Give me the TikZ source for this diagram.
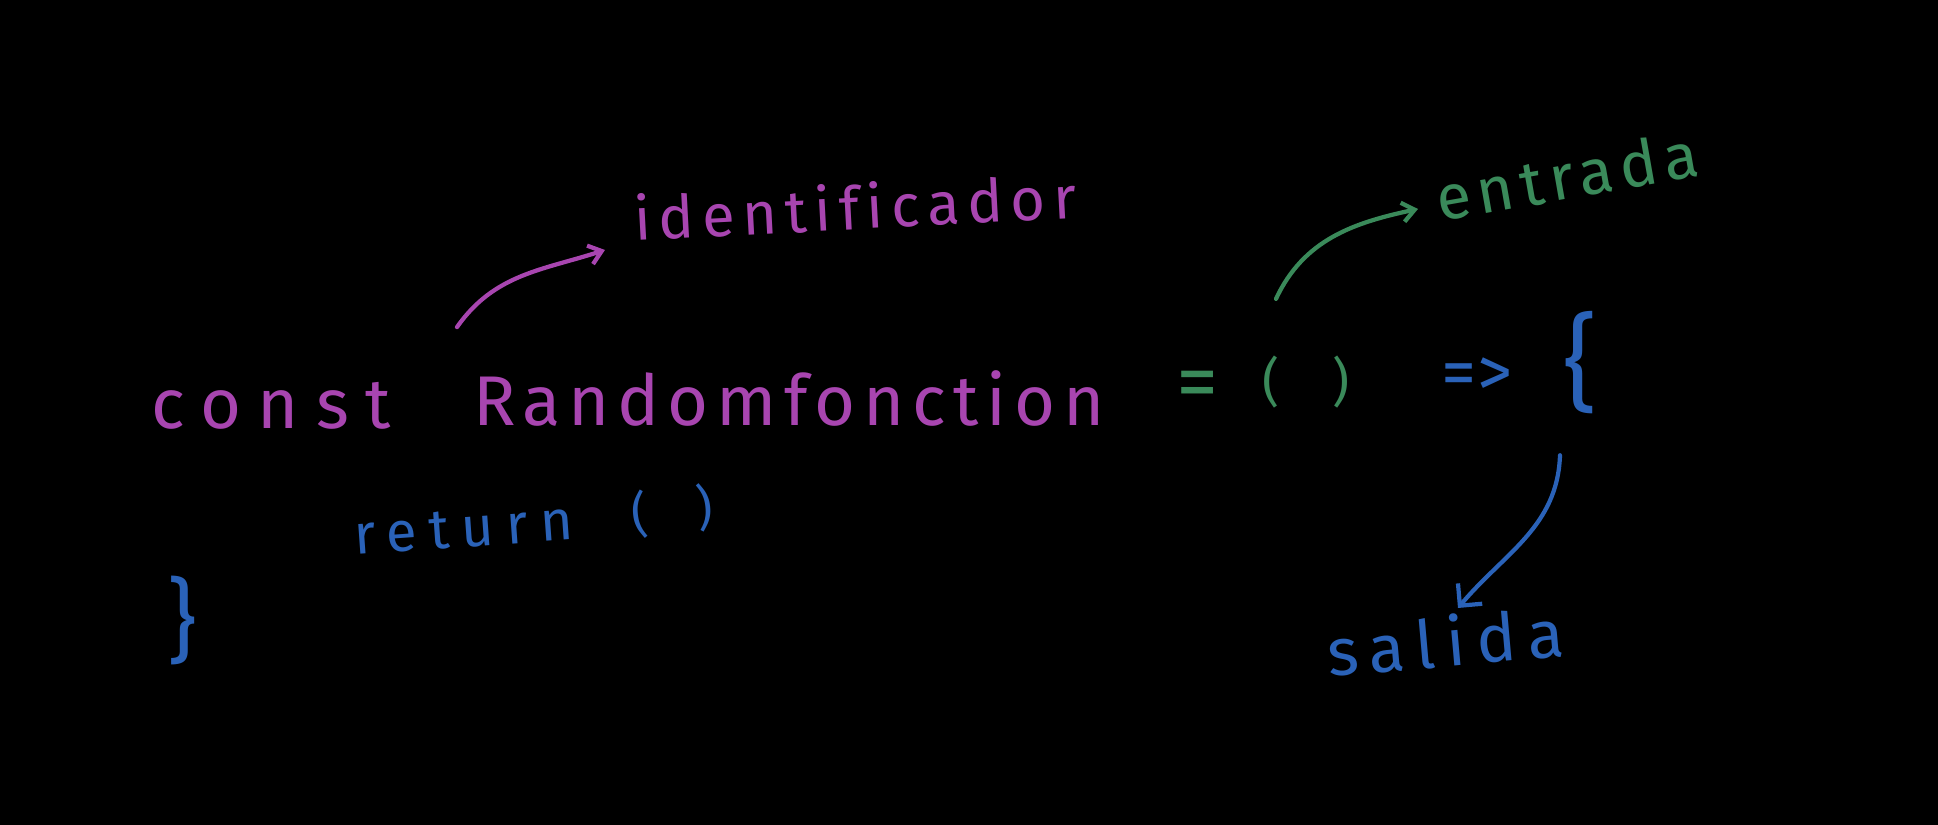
\documentclass[tikz,border=0pt]{standalone}
\usepackage{fontspec}
\setmainfont{Fira Sans}
\usetikzlibrary{arrows.meta,calc}
\definecolor{penmagenta}{RGB}{168,69,176}
\definecolor{pengreen}{RGB}{58,138,90}
\definecolor{penblue}{RGB}{42,98,184}
\newcommand{\handsize}[2]{\fontsize{#1}{#1}\selectfont
  \addfontfeature{LetterSpace=#2,Ligatures=NoCommon}}
\tikzset{
  hand/.style={inner sep=0pt, outer sep=0pt, anchor=base west},
  magtext/.style={hand, text=penmagenta},
  greentext/.style={hand, text=pengreen},
  bluetext/.style={hand, text=penblue},
  magflow/.style={draw=penmagenta, line width=1.2pt, line cap=round,
                  -{Straight Barb[length=3.5pt,width=5.5pt]}},
  greenflow/.style={draw=pengreen, line width=1.2pt, line cap=round,
                    -{Straight Barb[length=3.5pt,width=5.5pt]}},
  blueflow/.style={draw=penblue, line width=1.2pt, line cap=round,
                   -{Straight Barb[length=4.5pt,width=9pt]}},
}
\begin{document}
\begin{tikzpicture}[x=0.01cm,y=0.01cm]
  \path[use as bounding box, fill=black] (0,0) rectangle (1938,825);

  % first line of code
  \node[magtext, font=\handsize{20}{24}] (kw) at (151,396) {const};
  \node[magtext, font=\handsize{20}{11}] (fname) at (473,399) {Randomfonction};
  \node[greentext, anchor=center, font=\handsize{24}{0}] (eq) at (1198,434) {=};
  \node[greentext, anchor=center, font=\handsize{15}{0}] (inp) at (1306,443)
    {(\hspace{5.3mm})};
  \node[bluetext, anchor=center, font=\handsize{20}{0}] (arrow) at (1477,448) {=>};
  \node[bluetext, anchor=center, font=\handsize{30}{0}] (obrace) at (1580,462) {\{};

  % body
  \node[bluetext, rotate=4, font=\handsize{16}{22}] (ret) at (355,270) {return};
  \node[bluetext, anchor=center, rotate=6, font=\handsize{14}{0}] (retpar) at (672,314)
    {(\hspace{4.9mm})};
  \node[bluetext, anchor=center, font=\handsize{26}{0}] (cbrace) at (182,204) {\}};

  % labels
  \node[magtext, rotate=3, font=\handsize{17}{13}] (ident) at (635,584) {identificador};
  \node[greentext, rotate=10, font=\handsize{18}{11}] (entry) at (1440,603) {entrada};
  \node[bluetext, rotate=5, font=\handsize{19}{17}] (exit) at (1329,148) {salida};

  % pointers
  \draw[magflow] ($(fname.north west)+(-16,44)$) to[out=55,in=198]
    ($(ident.base west)+(-30,-9)$);
  \draw[greenflow] ($(inp.north)+(-30,57)$) to[out=65,in=192]
    ($(entry.base west)+(-22,13)$);
  \draw[blueflow] ($(obrace.south)+(-20,-41)$) to[out=268,in=50]
    ($(exit.base west)+(129,69)$);
\end{tikzpicture}
\end{document}
